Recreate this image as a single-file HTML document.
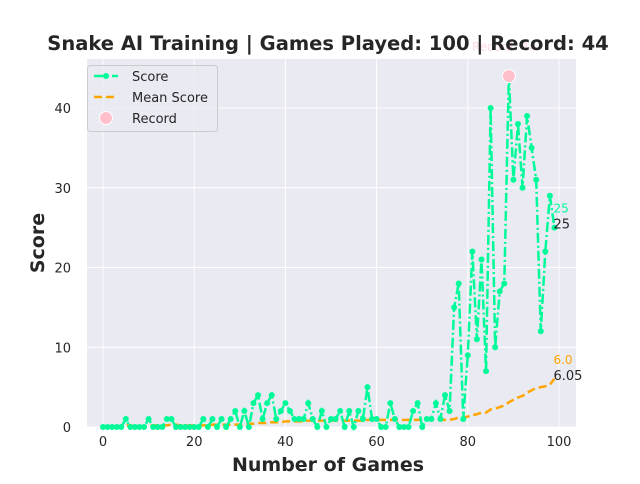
<!DOCTYPE html>
<html><head><meta charset="utf-8"><style>
body{margin:0;background:#fff;width:640px;height:480px;overflow:hidden;font-family:"DejaVu Sans","Liberation Sans",sans-serif}
</style></head><body>
<svg id="chart" width="640" height="480" xmlns="http://www.w3.org/2000/svg" font-family="DejaVu Sans, Liberation Sans, sans-serif">
<rect x="87" y="59" width="489" height="368" fill="#eaeaf2"/>
<g id="grid"></g>
<g id="ticks"></g>
<g id="series"></g>
<text x="328" y="50" text-anchor="middle" font-size="19.5" font-weight="bold" fill="#262626">Snake AI Training | Games Played: 100 | Record: 44</text>
<text x="328" y="471" text-anchor="middle" font-size="19" font-weight="bold" fill="#262626">Number of Games</text>
<text x="44" y="243" text-anchor="middle" font-size="19" font-weight="bold" fill="#262626" transform="rotate(-90 44 243)">Score</text>
<g>
<rect x="87.5" y="65.5" width="130" height="66" rx="3" fill="#eaeaf2" fill-opacity="0.8" stroke="#cccccc"/>
<g><line x1="94" y1="76" x2="118" y2="76" stroke="#00fa9a" stroke-width="2.5" stroke-dasharray="10,3,2,3"/><circle cx="106" cy="76" r="3" fill="#00fa9a"/><text x="132" y="81" font-size="13" fill="#262626">Score</text></g>
<g><line x1="94" y1="97" x2="118" y2="97" stroke="orange" stroke-width="2.5" stroke-dasharray="8,4"/><text x="132" y="102" font-size="13" fill="#262626">Mean Score</text></g>
<g><circle cx="106" cy="118" r="6.5" fill="pink" stroke="#fff"/><text x="132" y="123" font-size="13" fill="#262626">Record</text></g>
</g>
</svg>
<script>
const scores=[0,0,0,0,0,1,0,0,0,0,1,0,0,0,1,1,0,0,0,0,0,0,1,0,1,0,1,0,1,2,0,2,0,3,4,1,3,4,1,2,3,2,1,1,1,3,1,0,2,0,1,1,2,0,2,0,2,1,5,1,1,0,0,3,1,0,0,0,2,3,0,1,1,3,1,4,2,15,18,1,9,22,11,21,7,40,10,17,18,44,31,38,30,39,35,31,12,22,29,25];
const means=[0,0,0,0,0,0.2,0.2,0.1,0.1,0.1,0.2,0.2,0.2,0.2,0.2,0.3,0.3,0.2,0.2,0.2,0.2,0.2,0.2,0.2,0.3,0.3,0.3,0.3,0.3,0.3,0.3,0.4,0.4,0.4,0.5,0.5,0.5,0.6,0.6,0.6,0.7,0.7,0.7,0.7,0.7,0.8,0.8,0.8,0.8,0.8,0.8,0.8,0.8,0.8,0.8,0.8,0.8,0.8,0.9,0.9,0.9,0.9,0.9,0.9,0.9,0.9,0.9,0.9,0.9,0.9,0.9,0.9,0.9,0.9,0.9,0.9,0.9,1.0,1.2,1.2,1.3,1.5,1.6,1.8,1.8,2.2,2.3,2.5,2.7,3.1,3.4,3.7,3.9,4.3,4.6,4.9,5.0,5.1,5.3,6.05];
const xTicks=[0,20,40,60,80,100];
const yTicks=[0,10,20,30,40];
const recordValue=44;
const NS="http://www.w3.org/2000/svg";
const X=v=>103+v*4.56, Y=v=>427-v*7.975;
function mk(tag,attrs,parent){const e=document.createElementNS(NS,tag);for(const k in attrs)e.setAttribute(k,attrs[k]);parent.appendChild(e);return e;}
const grid=document.getElementById('grid'),ticks=document.getElementById('ticks'),ser=document.getElementById('series');
xTicks.forEach(t=>{
  const l=mk('line',{x1:X(t),x2:X(t),y1:59,y2:427,stroke:'#fff','stroke-width':1},grid);
  
  
  const tx=mk('text',{x:X(t),y:446,'text-anchor':'middle','font-size':13,fill:'#262626'},ticks);tx.textContent=t;
  
  
});
yTicks.forEach(t=>{
  const l=mk('line',{x1:87,x2:576,y1:Y(t),y2:Y(t),stroke:'#fff','stroke-width':1},grid);
  
  
  const tx=mk('text',{x:71,y:Y(t)+5,'text-anchor':'end','font-size':13,fill:'#262626'},ticks);tx.textContent=t;
  
  
});
const mp=mk('polyline',{points:means.map((v,i)=>X(i)+','+Y(v)).join(' '),fill:'none',stroke:'orange','stroke-width':2.5,'stroke-dasharray':'8,4'},ser);


const sp=mk('polyline',{points:scores.map((v,i)=>X(i)+','+Y(v)).join(' '),fill:'none',stroke:'#00fa9a','stroke-width':2.5,'stroke-dasharray':'10,3,2,3'},ser);


scores.forEach((v,i)=>{const c=mk('circle',{cx:X(i),cy:Y(v),r:3,fill:'#00fa9a'},ser);
  
  });
const ri=scores.indexOf(recordValue);
const rc=mk('circle',{cx:X(ri),cy:Y(recordValue),r:6.5,fill:'pink',stroke:'#fff','stroke-width':1},ser);


const rt=mk('text',{x:X(ri)-37,y:Y(recordValue)-25,'font-size':12,fill:'pink','fill-opacity':0.6},ser);rt.textContent='Record: '+recordValue;


const n=scores.length-1,last=scores[n],lm=means[n];
const a1=mk('text',{x:X(n)-1,y:Y(last)-15,'font-size':12,fill:'#00fa9a'},ser);a1.textContent=last;


const a2=mk('text',{x:X(n)-1,y:Y(last)+1,'font-size':13,fill:'#262626'},ser);a2.textContent=last;


const a3=mk('text',{x:X(n)-1,y:Y(lm)-15,'font-size':12,fill:'orange'},ser);a3.textContent=lm.toFixed(1);


const a4=mk('text',{x:X(n)-1,y:Y(lm)+1,'font-size':13,fill:'#262626'},ser);a4.textContent=lm;


</script>
</body></html>
